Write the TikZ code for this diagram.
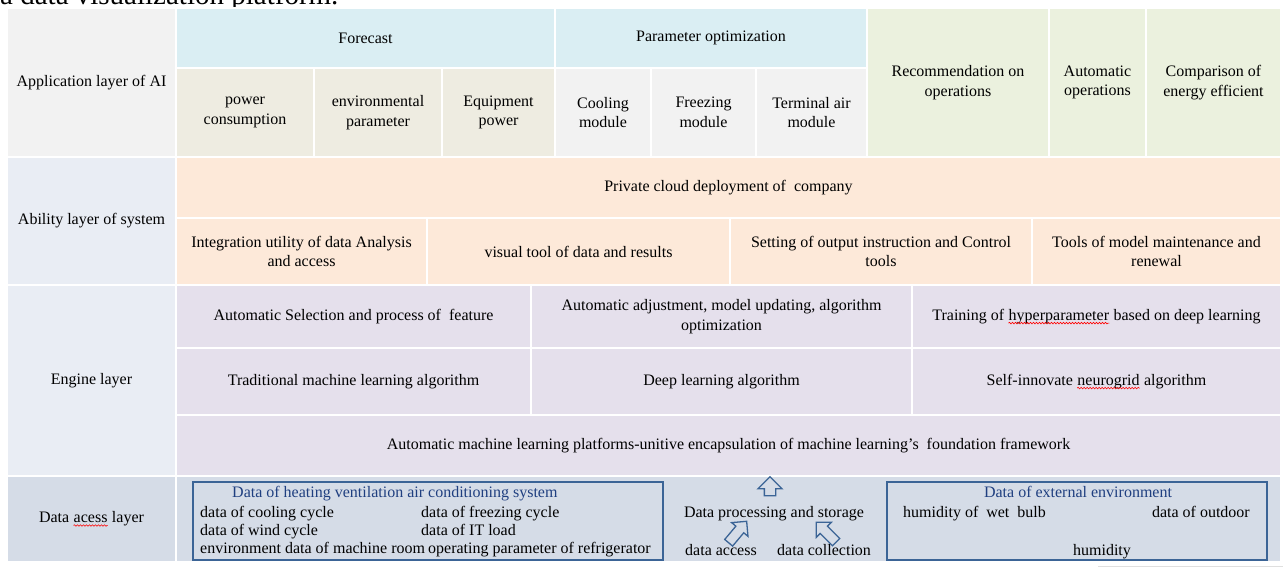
\documentclass[tikz,border=0pt]{standalone}
\usepackage{fontspec}
\setmainfont{Liberation Serif}
\usetikzlibrary{shapes.arrows,decorations.pathmorphing}
\definecolor{graycell}{HTML}{F2F2F2}
\definecolor{headblue}{HTML}{DAEEF3}
\definecolor{fcbeige}{HTML}{EEECE1}
\definecolor{greencell}{HTML}{EBF1DE}
\definecolor{peach}{HTML}{FDE9D9}
\definecolor{lavender}{HTML}{E5E0EC}
\definecolor{layerblue}{HTML}{E9EDF4}
\definecolor{databg}{HTML}{D5DCE7}
\definecolor{boxblue}{HTML}{3B6496}
\definecolor{titleblue}{HTML}{1F3F80}
\newcommand{\cellfont}{\fontsize{16}{19.5}\selectfont}
\newcommand{\spellmark}[1]{\tikz[baseline=(w.base)]{\node[rectangle, inner sep=0pt, minimum width=0pt, minimum height=0pt, draw=none, fill=none, anchor=base](w) at (0,0) {#1};\draw[red, line width=0.6pt, decorate, decoration={snake, amplitude=0.8pt, segment length=3pt}] ([yshift=-3pt]w.base west) -- ([yshift=-3pt]w.base east);}}
\tikzstyle{cell} = [rectangle, draw=white, line width=1.5pt, align=center, inner sep=2pt]
\tikzstyle{layer} = [cell, fill=layerblue]
\tikzstyle{head} = [cell, fill=headblue]
\tikzstyle{fcsub} = [cell, fill=fcbeige]
\tikzstyle{optsub} = [cell, fill=graycell]
\tikzstyle{ops} = [cell, fill=greencell]
\tikzstyle{ability} = [cell, fill=peach]
\tikzstyle{engine} = [cell, fill=lavender]
\tikzstyle{datarow} = [cell, fill=databg]
\tikzstyle{databox} = [rectangle, draw=boxblue, line width=1.6pt]
\tikzstyle{txt} = [inner sep=0pt]
\tikzstyle{boxtitle} = [txt, text=titleblue]
\tikzstyle{blockarr} = [single arrow, draw=boxblue, fill=databg, line width=1.3pt, minimum width=0pt]

\begin{document}
\begin{tikzpicture}[x=1pt, y=-1pt, every node/.style={font=\cellfont}]
\useasboundingbox (0,0) rectangle (1283,574);
\node (paperTxt)[txt, anchor=base west, font=\fontsize{29}{32}\selectfont] at (0,4) {a data visualization platform.};

\node (appLayer)[cell, fill=graycell, minimum width=169, minimum height=149] at (91.5,82.5) {Application layer of AI};
\node (abiLayer)[layer, minimum width=169, minimum height=128] at (91.5,221) {Ability layer of system};
\node (engLayer)[layer, minimum width=169, minimum height=191] at (91.5,380.5) {Engine layer};
\node (datLayer)[datarow, minimum width=169, minimum height=86] at (91.5,519) {Data \spellmark{acess} layer};

\node (fcast)[head, minimum width=379, minimum height=60] at (365.5,38) {Forecast};
\node (parOpt)[head, minimum width=312, minimum height=60] at (711,38) {Parameter optimization};
\node (pwrCons)[fcsub, minimum width=138, minimum height=89] at (245,112.5) {power\\consumption};
\node (envPar)[fcsub, minimum width=128, minimum height=89] at (378,112.5) {environmental\\parameter};
\node (equPow)[fcsub, minimum width=113, minimum height=89] at (498.5,112.5) {Equipment\\power};
\node (coolMod)[optsub, minimum width=96, minimum height=89] at (603,112.5) {Cooling\\module};
\node (frzMod)[optsub, minimum width=105, minimum height=89] at (703.5,112.5) {Freezing\\module};
\node (termMod)[optsub, minimum width=111, minimum height=89] at (811.5,112.5) {Terminal air\\module};
\node (recOp)[ops, minimum width=182, minimum height=149] at (958,82.5) {Recommendation on\\operations};
\node (autoOp)[ops, minimum width=97, minimum height=149] at (1097.5,82.5) {Automatic\\operations};
\node (compEn)[ops, minimum width=135, minimum height=149] at (1213.5,82.5) {Comparison of\\energy efficient};

\node (privCloud)[ability, minimum width=1105, minimum height=61] at (728.5,187.5) {Private cloud deployment of\ \ company};
\node (intUtil)[ability, minimum width=251, minimum height=67] at (301.5,251.5) {Integration utility of data Analysis\\and access};
\node (visTool)[ability, minimum width=303, minimum height=67] at (578.5,251.5) {visual tool of data and results};
\node (setOut)[ability, minimum width=302, minimum height=67] at (881,251.5) {Setting of output instruction and Control\\tools};
\node (toolMod)[ability, minimum width=249, minimum height=67] at (1156.5,251.5) {Tools of model maintenance and\\renewal};

\node (autoSel)[engine, minimum width=355, minimum height=63] at (353.5,316.5) {Automatic Selection and process of\ \ feature};
\node (autoAdj)[engine, minimum width=381, minimum height=63] at (721.5,316.5) {Automatic adjustment, model updating, algorithm\\optimization};
\node (trainHyp)[engine, minimum width=369, minimum height=63] at (1096.5,316.5) {Training of \spellmark{hyperparameter} based on deep learning};
\node (tradML)[engine, minimum width=355, minimum height=67] at (353.5,381.5) {Traditional machine learning algorithm};
\node (deepL)[engine, minimum width=381, minimum height=67] at (721.5,381.5) {Deep learning algorithm};
\node (selfNeu)[engine, minimum width=369, minimum height=67] at (1096.5,381.5) {Self-innovate \spellmark{neurogrid} algorithm};
\node (autoML)[engine, minimum width=1105, minimum height=61] at (728.5,445.5) {Automatic machine learning platforms-unitive encapsulation of machine learning's\ \ foundation framework};

\node (dataRow)[datarow, minimum width=1105, minimum height=86] at (728.5,519) {};
\node (hvacBox)[databox, minimum width=470, minimum height=78] at (428,521) {};
\node (extBox)[databox, minimum width=380, minimum height=78] at (1077,521) {};

\node (hvacTitle)[boxtitle, anchor=base west] at (232,497) {Data of heating ventilation air conditioning system};
\node (coolCyc)[txt, anchor=base west] at (200,517) {data of cooling cycle};
\node (frzCyc)[txt, anchor=base west] at (421,517) {data of freezing cycle};
\node (windCyc)[txt, anchor=base west] at (200,535) {data of wind cycle};
\node (itLoad)[txt, anchor=base west] at (421,535) {data of IT load};
\node (envRoom)[txt, anchor=base west] at (200,553) {environment data of machine room};
\node (refPar)[txt, anchor=base west] at (428,553) {operating parameter of refrigerator};

\node (proc)[txt, anchor=base] at (774,517) {Data processing and storage};
\node (acc)[txt, anchor=base west] at (685,555) {data access};
\node (coll)[txt, anchor=base west] at (777,555) {data collection};

\node (extTitle)[boxtitle, anchor=base] at (1078,497) {Data of external environment};
\node (wetBulb)[txt, anchor=base west] at (903,517) {humidity of\ \ wet\ \ bulb};
\node (outDoor)[txt, anchor=base east] at (1250,517) {data of outdoor};
\node (humid)[txt, anchor=base] at (1102,555) {humidity};

\node (upArr)[blockarr, rotate=90, inner sep=5pt, single arrow head extend=6.5pt, minimum height=19] at (770,489) {};
\node (accArr)[blockarr, rotate=50, inner sep=4.5pt, single arrow head extend=5.5pt, minimum height=28] at (736,534) {};
\node (collArr)[blockarr, rotate=135, inner sep=4.5pt, single arrow head extend=5.5pt, minimum height=28] at (828,534) {};

\draw[gray!25, line width=0.8pt] (1098,566) -- (1283,566);
\end{tikzpicture}
\end{document}
